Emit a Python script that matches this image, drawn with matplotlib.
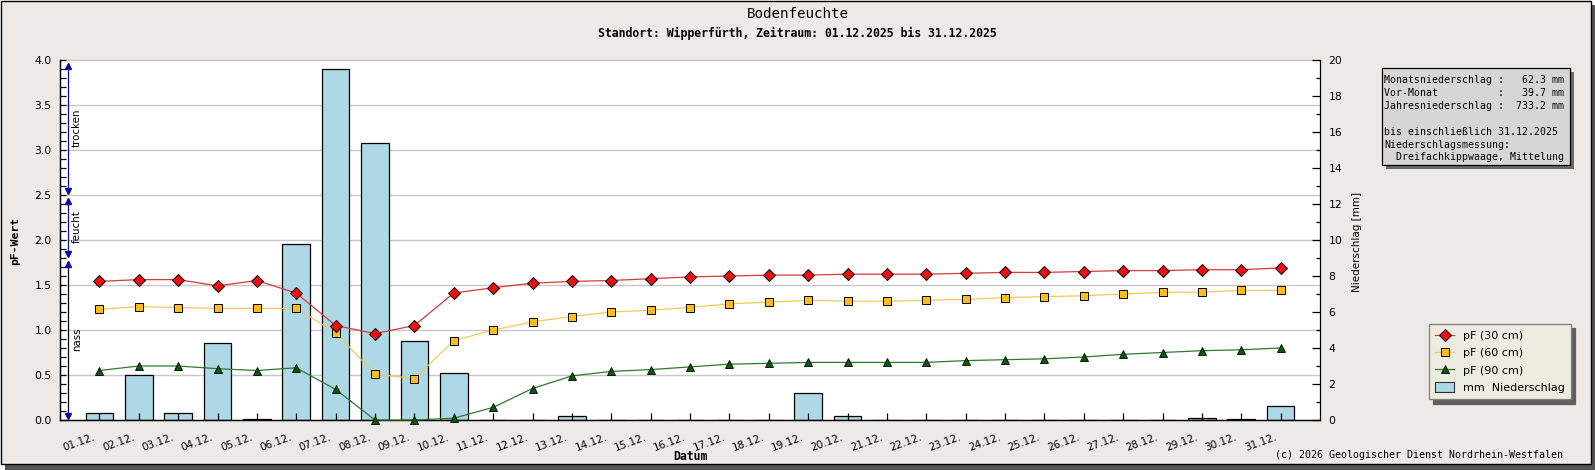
import matplotlib
matplotlib.use('Agg')
import matplotlib.pyplot as plt
import numpy as np
from matplotlib.lines import Line2D
from matplotlib.patches import Patch, Rectangle
import matplotlib.transforms as mtransforms

# ---------------- data ----------------
days = list(range(1, 32))
day_labels = [f'{d:02d}.12.' for d in days]

pf_30 = [1.54, 1.56, 1.56, 1.49, 1.55, 1.41, 1.05, 0.96, 1.05, 1.41,
         1.47, 1.52, 1.54, 1.55, 1.57, 1.59, 1.60, 1.61, 1.61, 1.62,
         1.62, 1.62, 1.63, 1.64, 1.64, 1.65, 1.66, 1.66, 1.67, 1.67, 1.69]
pf_60 = [1.23, 1.26, 1.25, 1.24, 1.24, 1.24, 0.97, 0.51, 0.46, 0.88,
         1.00, 1.09, 1.15, 1.20, 1.22, 1.25, 1.29, 1.31, 1.33, 1.32,
         1.32, 1.33, 1.34, 1.36, 1.37, 1.38, 1.40, 1.42, 1.42, 1.44, 1.44]
pf_90 = [0.55, 0.60, 0.60, 0.57, 0.55, 0.58, 0.34, 0.00, 0.00, 0.02,
         0.14, 0.35, 0.49, 0.54, 0.56, 0.59, 0.62, 0.63, 0.64, 0.64,
         0.64, 0.64, 0.66, 0.67, 0.68, 0.70, 0.73, 0.75, 0.77, 0.78, 0.80]
rain_mm = [0.4, 2.5, 0.4, 4.3, 0.05, 9.8, 19.5, 15.4, 4.4, 2.6,
           0.0, 0.0, 0.2, 0.0, 0.0, 0.0, 0.0, 0.0, 1.5, 0.2,
           0.0, 0.0, 0.0, 0.0, 0.0, 0.0, 0.0, 0.0, 0.1, 0.04, 0.8]

series_labels = ['pF (30 cm)', 'pF (60 cm)', 'pF (90 cm)', 'mm  Niederschlag']
zones = [('trocken', 2.5, 4.0), ('feucht', 1.8, 2.5), ('nass', 0.0, 1.8)]

title = 'Bodenfeuchte'
subtitle = 'Standort: Wipperfürth, Zeitraum: 01.12.2025 bis 31.12.2025'
info_lines = ['Monatsniederschlag :   62.3 mm',
              'Vor-Monat          :   39.7 mm',
              'Jahresniederschlag :  733.2 mm',
              '',
              'bis einschließlich 31.12.2025',
              'Niederschlagsmessung:',
              '  Dreifachkippwaage, Mittelung']
copyright_text = '(c) 2026 Geologischer Dienst Nordrhein-Westfalen'

# ---------------- layout helpers ----------------
W, H = 1595, 470
def fx(px): return px / W
def fy(py): return 1 - py / H

PANEL = '#ECE9E7'
MONO = 'DejaVu Sans Mono'
SANS = 'DejaVu Sans'

STY30 = dict(color='#D83A3A', lw=0.9, marker='D', ms=5.8, mfc='#EE1010', mec='black', mew=0.7)
STY60 = dict(color='#F2C95A', lw=0.9, marker='s', ms=5.6, mfc='#FFBC1E', mec='black', mew=0.7)
STY90 = dict(color='#2F7A2F', lw=0.9, marker='^', ms=6.4, mfc='#0B5A0B', mec='black', mew=0.6)

fig = plt.figure(figsize=(W / 100, H / 100), dpi=100, facecolor='white')

# panel + shadow
fig.patches.append(Rectangle((fx(5), fy(470)), fx(1590), 465 / H, transform=fig.transFigure,
                             facecolor='#555555', edgecolor='none', zorder=-10))
fig.patches.append(Rectangle((fx(0.5), fy(463.5)), fx(1590), 463 / H, transform=fig.transFigure,
                             facecolor=PANEL, edgecolor='black', lw=1.0, zorder=-9))

L, R, T, B = 60, 1320, 60, 420
rect = [fx(L), fy(B), fx(R - L), (B - T) / H]
ax = fig.add_axes(rect)
ax2 = ax.twinx()
ax2.set_zorder(1)
ax.set_zorder(2)
ax.patch.set_visible(False)
ax2.patch.set_visible(True)
ax2.patch.set_facecolor('white')

ax.set_xlim(0, 32)
ax.set_ylim(0, 4)
ax2.set_ylim(0, 20)

# grid (behind bars) using pF scale
for v in np.arange(0.5, 4.01, 0.5):
    ax2.plot([0, 1], [v, v], transform=ax.get_yaxis_transform(), color='#C8C8C8',
             lw=1.0, zorder=0, clip_on=False)

# bars
ax2.bar(days, rain_mm, width=0.7, color='#ADD8E6', edgecolor='black', linewidth=0.9, zorder=2)

# lines
ax.plot(days, pf_30, clip_on=False, zorder=5, **STY30)
ax.plot(days, pf_60, clip_on=False, zorder=4, **STY60)
ax.plot(days, pf_90, clip_on=False, zorder=4, **STY90)

# spines
for a in (ax, ax2):
    a.spines['top'].set_visible(False)
    for s in ('left', 'right', 'bottom'):
        a.spines[s].set_linewidth(0.9)
ax.spines['right'].set_visible(False)

# ticks
ax.set_xticks(days)
ax.set_xticklabels(day_labels, rotation=20, ha='right', va='top', fontsize=7.5, family=SANS)
ax.tick_params(axis='x', direction='in', length=5, width=0.9, pad=8.5)
ax.set_yticks(np.arange(0, 4.01, 0.5))
ax.set_yticklabels([f'{v:.1f}' for v in np.arange(0, 4.01, 0.5)], fontsize=7.8, family=SANS)
ax.set_yticks(np.arange(0, 4.01, 0.1), minor=True)
ax.tick_params(axis='y', which='both', direction='in', length=4, width=0.9, pad=6)
ax2.set_yticks(np.arange(0, 20.1, 2))
ax2.set_yticklabels([f'{int(v)}' for v in np.arange(0, 20.1, 2)], fontsize=7.8, family=SANS)
ax2.set_yticks(np.arange(0, 20.1, 1), minor=True)
ax2.tick_params(axis='y', which='major', direction='in', length=5.5, width=0.9, pad=6)
ax2.tick_params(axis='y', which='minor', direction='in', length=3, width=0.9)

off = mtransforms.ScaledTranslation(-3 / 100, 0, fig.dpi_scale_trans)
for lab in ax.get_xticklabels():
    lab.set_transform(lab.get_transform() + off)

# axis labels
fig.text(fx(15), fy(241), 'pF-Wert', rotation=90, ha='center', va='center',
         fontsize=8.2, fontweight='bold', family=MONO)
fig.text(fx(1357), fy(242), 'Niederschlag [mm]', rotation=90, ha='center', va='center',
         fontsize=7.5, family=SANS)
fig.text(fx(690), fy(456), 'Datum', ha='center', va='center',
         fontsize=8.3, fontweight='bold', family=MONO)

# titles
fig.text(0.5, fy(14.5), title, ha='center', va='center', fontsize=10.2, family=MONO)
fig.text(0.5, fy(33.5), subtitle, ha='center', va='center', fontsize=8.3,
         fontweight='bold', family=MONO)

# zone arrows on left
ytr = ax.get_yaxis_transform()
xz = (68 - L) / (R - L)
xt = (77 - L) / (R - L)
for name, lo, hi in zones:
    top = hi - 0.065
    bot = lo + 0.045
    shaft = 'black' if name == 'nass' else '#0A0AA0'
    ax.plot([xz, xz], [bot, top], transform=ytr, color=shaft, lw=0.9, clip_on=False, zorder=6)
    ax.plot([xz], [top], transform=ytr, marker='^', ms=4.6, color='#0A0AA0', clip_on=False, zorder=7)
    ax.plot([xz], [bot], transform=ytr, marker='v', ms=4.6, color='#0A0AA0', clip_on=False, zorder=7)
    ax.text(xt, (lo + hi) / 2, name, transform=ytr, rotation=90, ha='center', va='center',
            fontsize=7.4, family=SANS, zorder=7)

# info box
bx0, by0, bx1, by1 = 1382, 68, 1570, 165
fig.patches.append(Rectangle((fx(bx0 + 4), fy(by1 + 4)), fx(bx1 - bx0), (by1 - by0) / H,
                             transform=fig.transFigure, facecolor='#6A6A6A', edgecolor='none', zorder=-5))
fig.patches.append(Rectangle((fx(bx0), fy(by1)), fx(bx1 - bx0), (by1 - by0) / H,
                             transform=fig.transFigure, facecolor='#D6D6D6', edgecolor='black',
                             lw=0.9, zorder=-4))
for i, line in enumerate(info_lines):
    if line:
        fig.text(fx(1384), fy(80 + i * 12.9), line, ha='left', va='center',
                 fontsize=7.1, family=MONO)

# legend
handles = [Line2D([], [], **STY30), Line2D([], [], **STY60), Line2D([], [], **STY90),
           Patch(facecolor='#ADD8E6', edgecolor='#333333', lw=0.8)]
leg = fig.legend(handles, series_labels, loc='upper left', bbox_to_anchor=(fx(1429), fy(324)),
                 bbox_transform=fig.transFigure, borderaxespad=0, frameon=True, fancybox=False,
                 edgecolor='#808080', facecolor='#ECECE0', framealpha=1,
                 shadow={'color': '#606060', 'alpha': 1, 'ox': 3, 'oy': -3},
                 prop={'family': SANS, 'size': 8}, handlelength=1.7, handleheight=1.0,
                 handletextpad=0.8, labelspacing=0.6, borderpad=0.55)
leg.get_frame().set_linewidth(0.9)

# copyright
fig.text(fx(1563), fy(455), copyright_text, ha='right', va='center', fontsize=7.2, family=MONO)

fig.savefig('out.png', dpi=100, facecolor=fig.get_facecolor())
